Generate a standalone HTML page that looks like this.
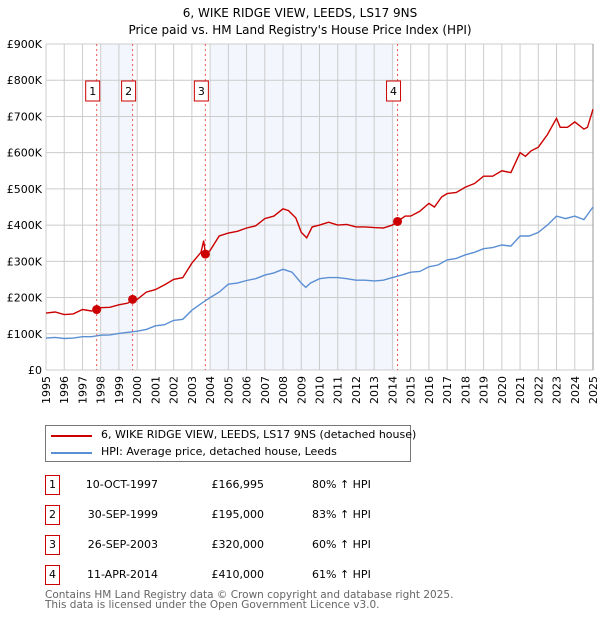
<!DOCTYPE html>
<html><head><meta charset="utf-8"><style>
body{margin:0;background:#fff;font-family:"DejaVu Sans","Liberation Sans",sans-serif;}
#wrap{position:relative;width:600px;height:620px;overflow:hidden}
.t{position:absolute;font-size:11px;color:#000;white-space:nowrap}
.box{position:absolute;width:13px;height:18px;border:1px solid #c00;font-size:11px;text-align:center;line-height:18px;background:#fff}
</style></head><body><div id="wrap">
<svg id="svg" width="600" height="420" style="position:absolute;left:0;top:0"></svg>
<div style="position:absolute;left:45px;top:425px;width:364px;height:35px;border:1px solid #777;">
 <div style="position:absolute;left:5px;top:9px;width:41px;height:2px;background:#c00"></div>
 <div class="t" style="left:55px;top:2px;font-size:11px">6, WIKE RIDGE VIEW, LEEDS, LS17 9NS (detached house)</div>
 <div style="position:absolute;left:5px;top:26px;width:41px;height:2px;background:#5b8fd4"></div>
 <div class="t" style="left:55px;top:19px;font-size:11px">HPI: Average price, detached house, Leeds</div>
</div>
<div id="tbl"></div>
<div class="t" style="left:45px;top:590px;color:#666;font-size:10.5px;line-height:10px">Contains HM Land Registry data © Crown copyright and database right 2025.<br>This data is licensed under the Open Government Licence v3.0.</div>
</div>
<script>
const hpiYears=[1995,1995.5,1996,1996.5,1997,1997.5,1998,1998.5,1999,1999.5,2000,2000.5,2001,2001.5,2002,2002.5,2003,2003.5,2004,2004.5,2005,2005.5,2006,2006.5,2007,2007.5,2008,2008.5,2009,2009.25,2009.5,2010,2010.5,2011,2011.5,2012,2012.5,2013,2013.5,2014,2014.5,2015,2015.5,2016,2016.5,2017,2017.5,2018,2018.5,2019,2019.5,2020,2020.5,2021,2021.5,2022,2022.5,2023,2023.5,2024,2024.5,2025];
const hpiValues=[88,90,87,88,92,92,96,97,101,104,107,112,122,125,137,140,165,183,200,215,237,240,247,252,262,268,278,270,240,228,240,252,255,255,252,248,248,246,248,255,262,270,272,285,290,304,308,318,325,335,338,345,342,370,370,380,400,425,418,425,415,450];
const propYears=[1995,1995.5,1996,1996.5,1997,1997.5,1997.78,1998,1998.5,1999,1999.5,1999.75,2000,2000.5,2001,2001.5,2002,2002.5,2003,2003.5,2003.65,2003.74,2004,2004.5,2005,2005.5,2006,2006.5,2007,2007.5,2008,2008.3,2008.7,2009,2009.3,2009.6,2010,2010.5,2011,2011.5,2012,2012.5,2013,2013.5,2014,2014.28,2014.7,2015,2015.5,2016,2016.3,2016.7,2017,2017.5,2018,2018.5,2019,2019.5,2020,2020.5,2021,2021.3,2021.6,2022,2022.5,2023,2023.2,2023.6,2024,2024.5,2024.7,2025];
const propValues=[157,160,153,155,167,163,167,172,173,180,185,195,195,215,222,235,250,255,295,325,357,320,330,370,378,383,392,398,418,425,445,440,420,380,365,395,400,408,400,402,395,395,393,392,400,410,425,425,438,460,450,478,487,490,505,515,535,535,550,545,600,590,605,615,650,695,670,670,685,665,670,720];
const saleLabels=["1","2","3","4"];
const saleYears=[1997.78,1999.75,2003.74,2014.28];
const saleValues=[166.995,195,320,410];
const saleDates=["10-OCT-1997","30-SEP-1999","26-SEP-2003","11-APR-2014"];
const salePrices=["£166,995","£195,000","£320,000","£410,000"];
const saleHpi=["80% ↑ HPI","83% ↑ HPI","60% ↑ HPI","61% ↑ HPI"];
const yTicks=[0,100,200,300,400,500,600,700,800,900];
const yTickLabels=["£0","£100K","£200K","£300K","£400K","£500K","£600K","£700K","£800K","£900K"];
const xTicks=[1995,1996,1997,1998,1999,2000,2001,2002,2003,2004,2005,2006,2007,2008,2009,2010,2011,2012,2013,2014,2015,2016,2017,2018,2019,2020,2021,2022,2023,2024,2025];
const X0=46,X1=593,Y0=370,Y1=44;
const xs=y=>X0+(y-1995)/30*(X1-X0);
const ys=v=>Y0-v/900*(Y0-Y1);
const svg=document.getElementById('svg');const NS='http://www.w3.org/2000/svg';
function mk(tag,a,p){const e=document.createElementNS(NS,tag);for(const k in a)e.setAttribute(k,a[k]);(p||svg).appendChild(e);return e;}
let t=mk('text',{x:300,y:17,'text-anchor':'middle','font-size':12,'font-family':'DejaVu Sans,sans-serif'});t.textContent='6, WIKE RIDGE VIEW, LEEDS, LS17 9NS';

t=mk('text',{x:300,y:34,'text-anchor':'middle','font-size':12,'font-family':'DejaVu Sans,sans-serif'});t.textContent="Price paid vs. HM Land Registry's House Price Index (HPI)";

[[0,1],[2,3]].forEach(([a,b],i)=>{const s=i==0?1998:saleYears[a]+0.3;const r=mk('rect',{x:xs(s),y:Y1,width:xs(saleYears[b])-xs(s)-(i?3:0),height:Y0-Y1,fill:'#f3f6fd'});
});
yTicks.forEach((v,i)=>{const l=mk('line',{x1:X0,x2:X1,y1:ys(v),y2:ys(v),stroke:'#ccc'});
const tx=mk('text',{x:X0-4,y:ys(v)+4,'text-anchor':'end','font-size':11,'font-family':'DejaVu Sans,sans-serif'});tx.textContent=yTickLabels[i];
});
xTicks.forEach(y=>{const l=mk('line',{x1:xs(y),x2:xs(y),y1:Y1,y2:Y0,stroke:'#ccc'});
const tx=mk('text',{x:0,y:0,'text-anchor':'end','font-size':11,'font-family':'DejaVu Sans,sans-serif',transform:`translate(${xs(y)+4},${Y0+6}) rotate(-90)`});tx.textContent=y;
});
mk('line',{x1:X1,x2:X1,y1:Y1,y2:Y0,stroke:'#999'});
saleYears.forEach((y,i)=>{const l=mk('line',{x1:xs(y),x2:xs(y),y1:Y1,y2:Y0,stroke:'#e55','stroke-dasharray':'2,3'});});
function path(xa,va,col,name){const d=xa.map((y,i)=>(i?'L':'M')+xs(y).toFixed(1)+','+ys(va[i]).toFixed(1)).join('');const p=mk('path',{d,fill:'none',stroke:col,'stroke-width':1.4});
}
path(hpiYears,hpiValues,'#5b8fd4','hpi-line');
path(propYears,propValues,'#c00','property-price-line');
saleYears.forEach((y,i)=>{const c=mk('circle',{cx:xs(y),cy:ys(saleValues[i]),r:4.5,fill:'#c00'});
const g=mk('rect',{x:xs(y)-11,y:81,width:14,height:20,fill:'#fff',stroke:'#c00'});
const tx=mk('text',{x:xs(y)-4,y:95,'text-anchor':'middle','font-size':11,'font-family':'DejaVu Sans,sans-serif'});tx.textContent=saleLabels[i];
});
const tbl=document.getElementById('tbl');
saleLabels.forEach((s,i)=>{const top=476+i*30;
const row=document.createElement('div');
row.innerHTML=`<div class="box" style="left:45px;top:${top-1}px">${s}</div><div class="t" style="left:158px;top:${top+2}px;transform:translateX(-100%)">${saleDates[i]}</div><div class="t" style="left:264px;top:${top+2}px;transform:translateX(-100%)">${salePrices[i]}</div><div class="t" style="left:312px;top:${top+2}px">${saleHpi[i]}</div>`;
row.style.cssText='position:absolute;left:0;top:0';tbl.appendChild(row);});
</script></body></html>
